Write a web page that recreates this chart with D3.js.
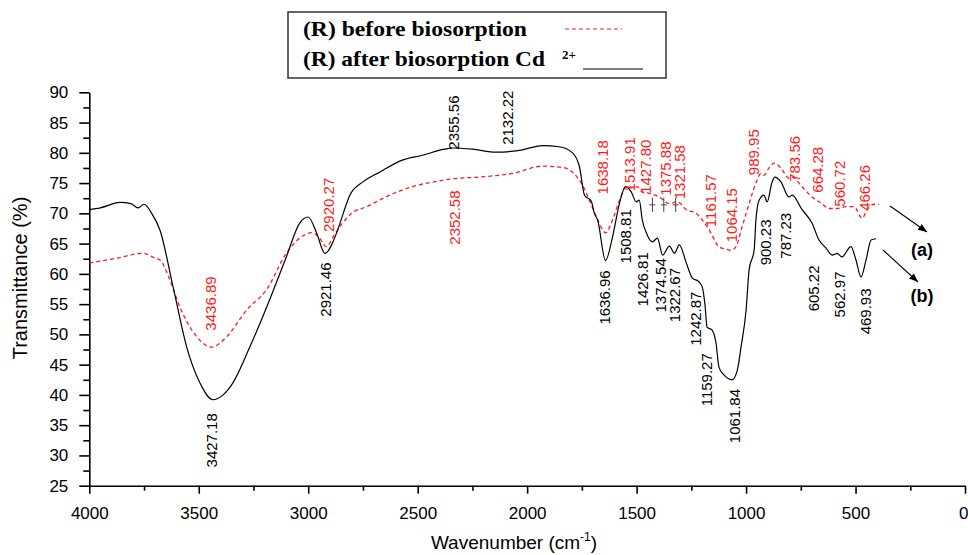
<!DOCTYPE html>
<html>
<head>
<meta charset="utf-8">
<script src="https://cdn.jsdelivr.net/npm/d3@7/dist/d3.min.js"></script>
<style>
  body { margin: 0; background: #fff; }
  svg { display: block; font-family: "Liberation Sans", Arial, sans-serif; }
  .axis path, .axis line { stroke: #000; stroke-width: 1.6; }
  .axis text { font-size: 17px; fill: #000; }
</style>
</head>
<body>
<svg width="968" height="555"></svg>
<script>
// (b) after biosorption Cd2+ (solid black)
var afterW = [4000, 3950, 3860, 3810, 3777, 3750, 3715, 3677, 3617, 3555, 3495, 3435, 3389, 3344, 3267, 3190, 3100, 3039, 3000, 2962, 2924, 2870, 2840, 2810, 2750, 2674, 2570, 2478, 2378, 2342, 2250, 2142, 2035, 1930, 1853, 1793, 1761, 1738, 1707, 1693, 1678, 1642, 1610, 1578, 1551, 1524, 1502, 1488, 1474, 1451, 1428, 1405, 1381, 1350, 1327, 1305, 1273, 1245, 1215, 1200, 1188, 1178, 1155, 1137, 1124, 1101, 1064, 1040, 1023, 1000, 986, 963, 955, 940, 918, 904, 881, 868, 841, 804, 790, 744, 699, 667, 636, 606, 584, 562, 521, 498, 475, 452, 429, 406];
var afterT = [70.6, 70.9, 71.8, 71.6, 70.9, 71.5, 70.0, 67.2, 57.8, 47.9, 42.0, 39.2, 40.0, 42.0, 47.9, 54.5, 62.8, 68.4, 69.4, 66.8, 63.4, 66.8, 70.0, 73.0, 75.2, 76.8, 78.8, 79.6, 80.6, 80.8, 80.6, 80.1, 80.4, 81.2, 81.0, 80.0, 77.7, 73.0, 72.0, 70.0, 68.9, 62.2, 66.1, 71.7, 74.4, 73.5, 71.9, 72.2, 68.9, 66.4, 65.3, 65.9, 63.1, 64.6, 63.4, 64.8, 61.8, 59.3, 58.7, 57.8, 55.0, 51.2, 50.7, 48.5, 44.6, 43.3, 42.5, 44.1, 47.9, 54.0, 60.7, 64.0, 68.9, 72.2, 73.0, 71.9, 75.2, 76.0, 75.2, 72.7, 73.0, 70.6, 68.4, 65.6, 64.3, 63.1, 63.4, 62.8, 64.5, 62.3, 59.5, 62.3, 65.6, 65.8];

// (a) before biosorption (red dashed)
var beforeW = [4000, 3873, 3755, 3700, 3677, 3632, 3586, 3509, 3441, 3373, 3282, 3190, 3100, 3039, 2984, 2948, 2918, 2880, 2843, 2802, 2734, 2628, 2524, 2378, 2342, 2218, 2066, 1930, 1838, 1793, 1753, 1729, 1714, 1683, 1642, 1610, 1578, 1547, 1524, 1497, 1474, 1442, 1397, 1351, 1314, 1273, 1228, 1200, 1178, 1155, 1132, 1114, 1092, 1069, 1046, 1018, 986, 955, 932, 918, 895, 872, 841, 804, 790, 744, 699, 653, 622, 584, 543, 507, 470, 447, 415, 393];
var beforeT = [61.8, 62.6, 63.4, 62.6, 62.3, 59.0, 54.5, 49.6, 47.9, 49.6, 54.0, 57.4, 63.4, 65.9, 66.8, 65.9, 64.5, 66.5, 68.4, 70.0, 71.1, 73.0, 74.4, 75.5, 75.7, 76.0, 76.6, 77.8, 77.6, 76.8, 75.0, 73.3, 72.0, 69.4, 66.8, 68.9, 72.2, 74.4, 74.2, 74.4, 73.5, 73.3, 72.7, 71.6, 71.9, 70.6, 70.0, 68.9, 67.8, 66.4, 64.8, 64.3, 64.1, 63.9, 64.5, 67.8, 71.6, 75.0, 76.6, 76.3, 77.5, 78.3, 77.5, 75.8, 76.0, 74.4, 72.7, 71.6, 70.8, 70.8, 71.1, 71.1, 69.2, 70.6, 71.5, 71.5];

// peak labels: text, where it sits (wavenumber, transmittance of label centre)
var afterPeaks = ["3427.18", "2921.46", "2355.56", "2132.22", "1636.96", "1508.81", "1426.81", "1374.54", "1322.67", "1242.87", "1159.27", "1061.84", "900.23", "787.23", "605.22", "562.97", "469.93"];
var afterPeakW = [3440, 2920, 2336, 2090, 1647, 1551, 1474, 1392, 1324, 1228, 1178, 1054, 908, 817, 690, 571, 453];
var afterPeakT = [32.5, 57.4, 85.0, 85.8, 56.1, 66.2, 59.1, 58.1, 56.5, 52.6, 42.5, 36.5, 65.2, 66.3, 57.6, 56.6, 53.8];

var beforePeaks = ["3436.89", "2920.27", "2352.58", "1638.18", "1513.91", "1427.80", "1375.88", "1321.58", "1161.57", "1064.15", "989.95", "783.56", "664.28", "560.72", "466.26"];
var beforePeakW = [3445, 2907, 2332, 1656, 1533, 1456, 1369, 1301, 1160, 1064, 963, 776, 671, 571, 457];
var beforePeakT = [55.1, 71.4, 69.3, 77.6, 78.1, 77.7, 77.4, 76.8, 72.1, 69.7, 80.1, 79.0, 77.2, 74.9, 74.2];

// little peak pins under the 1427/1375/1321 labels
var pinW = [1427.80, 1375.88, 1321.58];

var xTicks = [4000, 3500, 3000, 2500, 2000, 1500, 1000, 500, 0];
var yTicks = [25, 30, 35, 40, 45, 50, 55, 60, 65, 70, 75, 80, 85, 90];

var svg = d3.select("svg"),
    margin = { top: 92.3, left: 89.3 },
    width = 965 - margin.left,
    height = 485.7 - margin.top;

var g = svg.append("g").attr("transform", "translate(" + margin.left + "," + margin.top + ")");

var x = d3.scaleLinear().domain([4000, 0]).range([0, width]);
var y = d3.scaleLinear().domain([25, 90]).range([height, 0]);

function zip(ws, ts) {
    return ws.map(function(w, i) { return { w: w, t: ts[i] }; });
}

var line = d3.line()
    .x(function(d) { return x(d.w); })
    .y(function(d) { return y(d.t); })
    .curve(d3.curveMonotoneX);

// minor ticks first so the major ones sit on top
g.append("g")
    .attr("class", "axis")
    .attr("transform", "translate(0," + height + ")")
    .call(d3.axisBottom(x).tickValues(d3.range(250, 4000, 500)).tickSize(5).tickFormat(""))
    .select(".domain").remove();
g.append("g")
    .attr("class", "axis")
    .call(d3.axisLeft(y).tickValues(d3.range(27.5, 90, 5)).tickSize(6).tickFormat(""))
    .select(".domain").remove();

var xAxis = g.append("g")
    .attr("class", "axis axis--x")
    .attr("transform", "translate(0," + height + ")")
    .call(d3.axisBottom(x).tickValues(xTicks).tickFormat(d3.format("d")).tickSize(8).tickPadding(13).tickSizeOuter(0));

// the "0" sits right at the page edge
xAxis.selectAll(".tick text")
    .filter(function(d) { return d === 0; })
    .attr("text-anchor", "end")
    .attr("x", 3);

g.append("g")
    .attr("class", "axis axis--y")
    .call(d3.axisLeft(y).tickValues(yTicks).tickSize(10).tickPadding(11).tickSizeOuter(0));

// axis titles
var xt = svg.append("text")
    .attr("x", 514).attr("y", 549)
    .attr("text-anchor", "middle")
    .style("font-size", "19px")
    .text("Wavenumber (cm");
xt.append("tspan").attr("dy", -8).style("font-size", "12px").text("-1");
xt.append("tspan").attr("dy", 8).text(")");

svg.append("text")
    .attr("transform", "translate(27,278) rotate(-90)")
    .attr("text-anchor", "middle")
    .style("font-size", "20px")
    .text("Transmittance (%)");

// spectra
g.append("path")
    .datum(zip(beforeW, beforeT))
    .attr("fill", "none")
    .attr("stroke", "#ff1a1a")
    .attr("stroke-width", 1.3)
    .attr("stroke-dasharray", "4,3")
    .attr("d", line);

g.append("path")
    .datum(zip(afterW, afterT))
    .attr("fill", "none")
    .attr("stroke", "#000")
    .attr("stroke-width", 1.2)
    .attr("d", line);

function peakLabels(texts, ws, ts, colour) {
    g.selectAll(null)
        .data(texts)
      .enter().append("text")
        .attr("transform", function(d, i) {
            return "translate(" + x(ws[i]) + "," + y(ts[i]) + ") rotate(-90)";
        })
        .attr("text-anchor", "middle")
        .attr("dy", "0.35em")
        .style("font-size", "15px")
        .attr("fill", colour)
        .text(function(d) { return d; });
}
peakLabels(beforePeaks, beforePeakW, beforePeakT, "#ff1a1a");
peakLabels(afterPeaks, afterPeakW, afterPeakT, "#000");

var pins = g.selectAll(null).data(pinW).enter().append("g")
    .attr("transform", function(d) { return "translate(" + x(d) + ",0)"; });
pins.append("line")
    .attr("y1", y(72.6)).attr("y2", y(70.2))
    .attr("stroke", "#444").attr("stroke-width", 1);
pins.append("line")
    .attr("x1", -3).attr("x2", 3)
    .attr("y1", y(71.4)).attr("y2", y(71.4))
    .attr("stroke", "#444").attr("stroke-width", 1);

// (a)/(b) arrows
svg.append("defs").append("marker")
    .attr("id", "head")
    .attr("viewBox", "0 0 10 10")
    .attr("refX", 10).attr("refY", 5)
    .attr("markerWidth", 9).attr("markerHeight", 9)
    .attr("markerUnits", "userSpaceOnUse")
    .attr("orient", "auto")
  .append("path")
    .attr("d", "M0,1 L10,5 L0,9 Z")
    .attr("fill", "#000");

svg.append("line")
    .attr("x1", 890).attr("y1", 206).attr("x2", 927).attr("y2", 232)
    .attr("stroke", "#000").attr("stroke-width", 1.1)
    .attr("marker-end", "url(#head)");
svg.append("line")
    .attr("x1", 883).attr("y1", 250).attr("x2", 918).attr("y2", 282)
    .attr("stroke", "#000").attr("stroke-width", 1.1)
    .attr("marker-end", "url(#head)");

svg.append("text").attr("x", 922).attr("y", 256)
    .attr("text-anchor", "middle")
    .style("font-size", "18px").style("font-weight", "bold")
    .text("(a)");
svg.append("text").attr("x", 922).attr("y", 302)
    .attr("text-anchor", "middle")
    .style("font-size", "18px").style("font-weight", "bold")
    .text("(b)");

// legend box
var legend = svg.append("g").style("font-family", "'Liberation Serif', 'Times New Roman', serif");
legend.append("rect")
    .attr("x", 288).attr("y", 12)
    .attr("width", 378).attr("height", 66)
    .attr("fill", "#fff")
    .attr("stroke", "#333").attr("stroke-width", 1.5);
legend.append("text")
    .attr("x", 303).attr("y", 36)
    .attr("textLength", 224).attr("lengthAdjust", "spacingAndGlyphs")
    .style("font-size", "22px").style("font-weight", "bold")
    .text("(R) before biosorption");
legend.append("text")
    .attr("x", 303).attr("y", 66)
    .attr("textLength", 242).attr("lengthAdjust", "spacingAndGlyphs")
    .style("font-size", "22px").style("font-weight", "bold")
    .text("(R) after biosorption Cd");
legend.append("text")
    .attr("x", 562).attr("y", 59)
    .style("font-size", "13px").style("font-weight", "bold")
    .text("2+");
legend.append("line")
    .attr("x1", 565).attr("x2", 622).attr("y1", 29).attr("y2", 29)
    .attr("stroke", "#ff1a1a").attr("stroke-width", 1.1)
    .attr("stroke-dasharray", "4,3");
legend.append("line")
    .attr("x1", 583).attr("x2", 643).attr("y1", 69).attr("y2", 69)
    .attr("stroke", "#000").attr("stroke-width", 1.1);
</script>
</body>
</html>
